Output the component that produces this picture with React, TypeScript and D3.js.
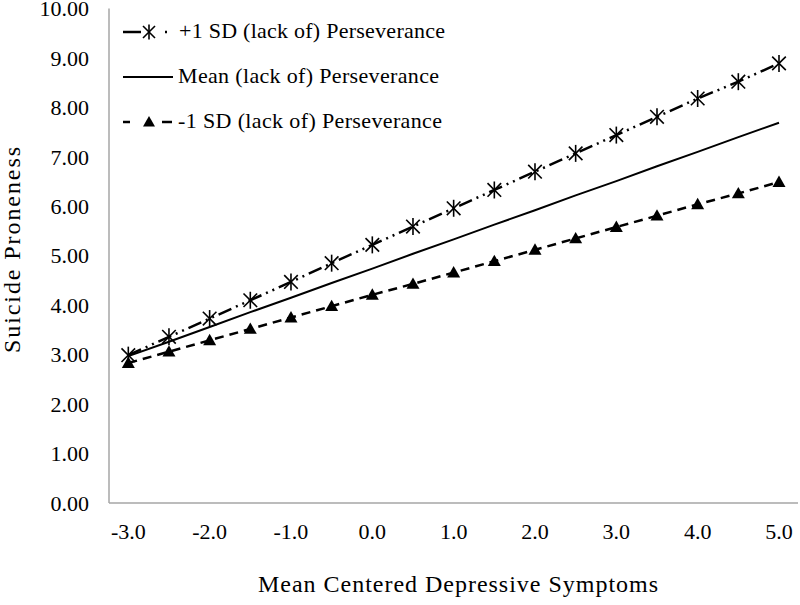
import React from "react";
import * as d3 from "d3";

const categories = ["-3.0","-2.5","-2.0","-1.5","-1.0","-0.5","0.0","0.5","1.0","1.5","2.0","2.5","3.0","3.5","4.0","4.5","5.0"];
const tickLabels = ["-3.0","-2.0","-1.0","0.0","1.0","2.0","3.0","4.0","5.0"];
const plusSD = [2.99,3.36,3.73,4.10,4.47,4.85,5.22,5.59,5.96,6.33,6.70,7.07,7.44,7.81,8.18,8.52,8.89];
const meanSD = [2.97,3.26,3.56,3.86,4.15,4.45,4.74,5.04,5.33,5.63,5.92,6.22,6.51,6.81,7.10,7.40,7.69];
const minusSD = [2.83,3.06,3.29,3.52,3.75,3.98,4.21,4.43,4.66,4.89,5.12,5.35,5.58,5.81,6.04,6.26,6.49];
const yTicks = [0,1,2,3,4,5,6,7,8,9,10];
const seriesNames = ["+1 SD (lack of) Perseverance","Mean (lack of) Perseverance","-1 SD (lack of) Perseverance"];

const W = 800, H = 605;
const axisLeft = 109, axisRight = 798, top = 8.5, bottom = 503;
const font = "'Liberation Serif', 'Times New Roman', serif";

function Star({ x, y, r = 8.5 }: { x: number; y: number; r?: number }) {
  const a = r * 0.8;
  return (
    <g stroke="#000" strokeWidth={1.6}>
      <line x1={x} y1={y - r} x2={x} y2={y + r} />
      <line x1={x - a} y1={y - a} x2={x + a} y2={y + a} />
      <line x1={x - a} y1={y + a} x2={x + a} y2={y - a} />
    </g>
  );
}

function Tri({ x, y, s = 6.5 }: { x: number; y: number; s?: number }) {
  const p = `${x},${y - s} ${x + s},${y + s * 0.75} ${x - s},${y + s * 0.75}`;
  return <polygon points={p} fill="#000" />;
}

export default function App() {
  const x = d3.scalePoint<string>().domain(categories).range([128.3, 779]);
  const cx = (c: string) => x(c) as number;
  const y = d3.scaleLinear().domain([0, 10]).range([bottom, top]);
  const line = d3.line<number>().x((_, i) => cx(categories[i])).y((d) => y(d));

  const dashPlus = "14,5,2,5,2,5";
  const dashMinus = "9,6";

  return (
    <svg width={W} height={H} style={{ position: "absolute", left: 0, top: 0, background: "#fff" }} fontFamily={font}>
      <rect width={W} height={H} fill="#fff" />
      {/* axes */}
      <line x1={axisLeft} y1={top} x2={axisLeft} y2={bottom} stroke="#a6a6a6" strokeWidth={1.5} />
      <line x1={axisLeft} y1={bottom} x2={axisRight} y2={bottom} stroke="#a6a6a6" strokeWidth={1.5} />
      {yTicks.map((t) => (
        <text key={t} x={89} y={y(t)} dy="0.35em" textAnchor="end" fontSize={22} fill="#000">
          {t.toFixed(2)}
        </text>
      ))}
      {tickLabels.map((t) => (
        <text key={t} x={cx(t)} y={531.5} dy="0.35em" textAnchor="middle" fontSize={22} fill="#000">
          {t}
        </text>
      ))}
      <text x={258} y={592} fontSize={24} fill="#000" textLength={400} lengthAdjust="spacing">Mean Centered Depressive Symptoms</text>
      <text transform={`translate(20,250) rotate(-90)`} textAnchor="middle" fontSize={24} fill="#000" textLength={206} lengthAdjust="spacing">Suicide Proneness</text>

      {/* series */}
      <path d={line(meanSD) || ""} fill="none" stroke="#000" strokeWidth={2} />
      <path d={line(minusSD) || ""} fill="none" stroke="#000" strokeWidth={2.5} strokeDasharray={dashMinus} />
      <path d={line(plusSD) || ""} fill="none" stroke="#000" strokeWidth={2.5} strokeDasharray={dashPlus} />
      {minusSD.map((v, i) => <Tri key={"m" + i} x={cx(categories[i])} y={y(v)} />)}
      {plusSD.map((v, i) => <Star key={"p" + i} x={cx(categories[i])} y={y(v)} />)}

      {/* legend */}
      <g fill="#000">
        <line x1={123} y1={32} x2={141} y2={32} stroke="#000" strokeWidth={2.5} />
        <Star x={149} y={32} r={7.5} />
        <line x1={165} y1={32} x2={167} y2={32} stroke="#000" strokeWidth={2.5} />
        <text x={179} y={38} fontSize={22} textLength={266} lengthAdjust="spacing">{seriesNames[0]}</text>
        <line x1={123} y1={77} x2={173} y2={77} stroke="#000" strokeWidth={2} />
        <text x={178} y={83} fontSize={22} textLength={261} lengthAdjust="spacing">{seriesNames[1]}</text>
        <line x1={123} y1={122} x2={130} y2={122} stroke="#000" strokeWidth={2.5} />
        <Tri x={149} y={122} s={6} />
        <line x1={162} y1={122} x2={172} y2={122} stroke="#000" strokeWidth={2.5} />
        <text x={178} y={128} fontSize={22} textLength={264} lengthAdjust="spacing">{seriesNames[2]}</text>
      </g>
    </svg>
  );
}
